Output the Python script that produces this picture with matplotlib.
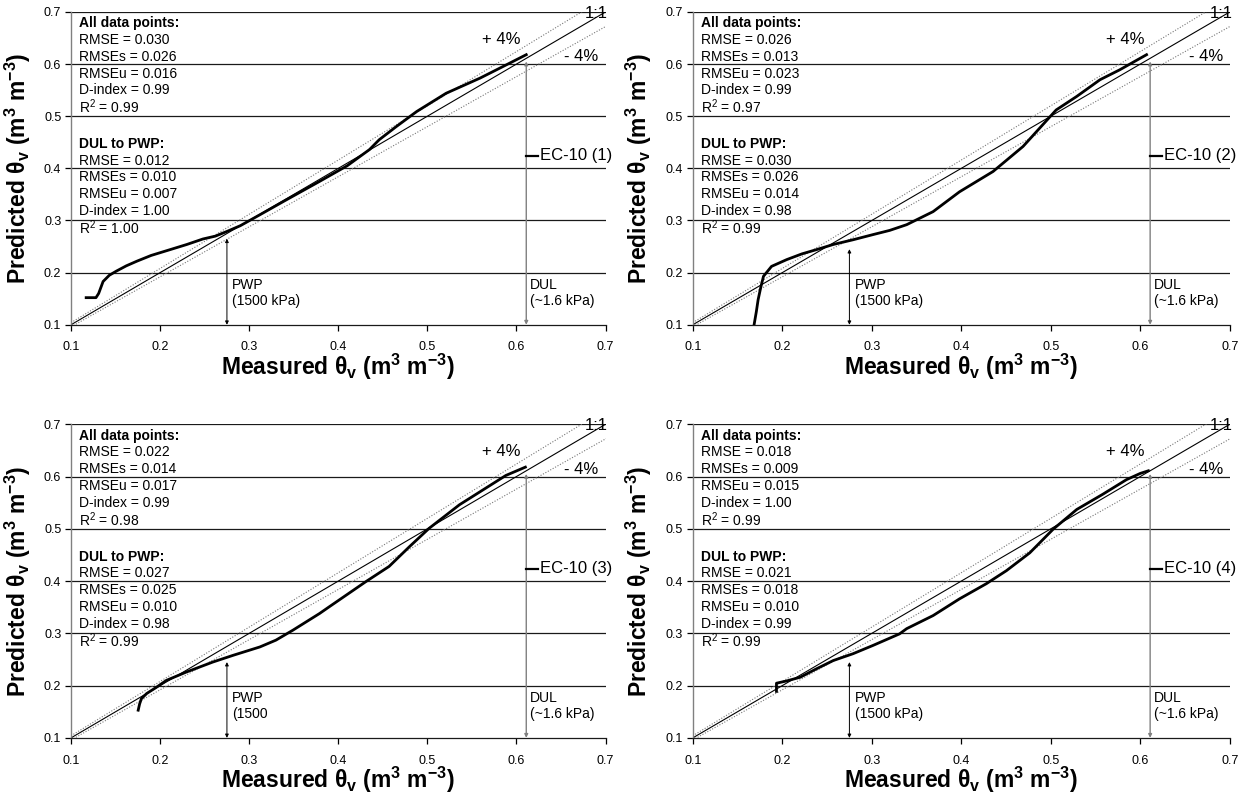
import matplotlib
matplotlib.use("Agg")
import matplotlib.pyplot as plt

plt.rcParams["font.family"] = ["Liberation Sans", "DejaVu Sans"]
plt.rcParams["mathtext.fontset"] = "custom"
plt.rcParams["mathtext.rm"] = "Liberation Sans"
plt.rcParams["mathtext.it"] = "Liberation Sans:italic"
plt.rcParams["mathtext.bf"] = "Liberation Sans:bold"

# sensor response curves, measured vs predicted volumetric water content
ec1_meas = [0.117, 0.128, 0.131, 0.136, 0.143, 0.151, 0.162, 0.174, 0.19, 0.211, 0.23,
            0.248, 0.262, 0.275, 0.29, 0.312, 0.34, 0.379, 0.41, 0.435, 0.446, 0.465,
            0.488, 0.521, 0.559, 0.588, 0.611]
ec1_pred = [0.152, 0.152, 0.160, 0.183, 0.195, 0.203, 0.213, 0.222, 0.233, 0.244, 0.254,
            0.2645, 0.270, 0.279, 0.290, 0.311, 0.338, 0.375, 0.405, 0.436, 0.455, 0.480,
            0.509, 0.544, 0.573, 0.598, 0.618]

ec2_meas = [0.1685, 0.171, 0.173, 0.176, 0.179, 0.188, 0.205, 0.222, 0.238, 0.257, 0.279,
            0.3015, 0.32, 0.339, 0.3685, 0.398, 0.4355, 0.469, 0.506, 0.529, 0.555, 0.577,
            0.607]
ec2_pred = [0.100, 0.125, 0.148, 0.172, 0.193, 0.212, 0.225, 0.236, 0.244, 0.254, 0.263,
            0.273, 0.281, 0.292, 0.317, 0.355, 0.394, 0.442, 0.512, 0.538, 0.570, 0.589,
            0.618]

ec3_meas = [0.1754, 0.177, 0.179, 0.185, 0.196, 0.207, 0.2295, 0.259, 0.282, 0.312, 0.33,
            0.349, 0.379, 0.39, 0.431, 0.457, 0.48, 0.502, 0.536, 0.562, 0.588, 0.610]
ec3_pred = [0.153, 0.165, 0.175, 0.185, 0.197, 0.210, 0.226, 0.245, 0.258, 0.274, 0.287,
            0.306, 0.338, 0.351, 0.399, 0.428, 0.466, 0.501, 0.546, 0.574, 0.602, 0.618]

ec4_meas = [0.1935, 0.1935, 0.205, 0.22, 0.238, 0.257, 0.279, 0.3015, 0.331, 0.339, 0.3685,
            0.398, 0.428, 0.4505, 0.4765, 0.5025, 0.529, 0.558, 0.5845, 0.6, 0.609]
ec4_pred = [0.189, 0.2046, 0.209, 0.216, 0.232, 0.248, 0.261, 0.277, 0.299, 0.309, 0.334,
            0.366, 0.395, 0.420, 0.454, 0.499, 0.537, 0.566, 0.594, 0.606, 0.611]

sensor_names = ["EC-10 (1)", "EC-10 (2)", "EC-10 (3)", "EC-10 (4)"]

# goodness-of-fit: RMSE, RMSEs, RMSEu, D-index, R^2
stats_all = [["0.030", "0.026", "0.016", "0.99", "0.99"],
             ["0.026", "0.013", "0.023", "0.99", "0.97"],
             ["0.022", "0.014", "0.017", "0.99", "0.98"],
             ["0.018", "0.009", "0.015", "1.00", "0.99"]]
stats_dul_pwp = [["0.012", "0.010", "0.007", "1.00", "1.00"],
                 ["0.030", "0.026", "0.014", "0.98", "0.99"],
                 ["0.027", "0.025", "0.010", "0.98", "0.99"],
                 ["0.021", "0.018", "0.010", "0.99", "0.99"]]

pwp_labels = ["PWP\n(1500 kPa)", "PWP\n(1500 kPa)", "PWP\n(1500", "PWP\n(1500 kPa)"]
pwp_tops = [0.265, 0.245, 0.245, 0.245]

ticks = [0.1, 0.2, 0.3, 0.4, 0.5, 0.6, 0.7]
PWP_X = 0.275
DUL_X = 0.611
DUL_TOP = 0.605
EC_Y = 0.424
STAT_NAMES = ["RMSE", "RMSEs", "RMSEu", "D-index", "R$^2$"]

curves = [(ec1_meas, ec1_pred), (ec2_meas, ec2_pred),
          (ec3_meas, ec3_pred), (ec4_meas, ec4_pred)]


def draw_panel(ax, i):
    meas, pred = curves[i]
    for t in ticks[1:]:
        ax.axhline(t, color="#1a1a1a", lw=0.9, zorder=1)

    line = [0.1, 0.75]
    ax.plot(line, line, color="black", lw=0.8, zorder=2)
    ax.plot(line, [v * 1.04 for v in line], color="#777777", lw=0.8, ls=(0, (1, 1.5)), zorder=2)
    ax.plot(line, [v * 0.96 for v in line], color="#777777", lw=0.8, ls=(0, (1, 1.5)), zorder=2)
    ax.plot(meas, pred, color="black", lw=2.0, solid_joinstyle="round", zorder=4)

    # PWP and DUL markers
    ax.annotate("", xy=(PWP_X, pwp_tops[i]), xytext=(PWP_X, 0.1),
                arrowprops=dict(arrowstyle="<|-|>", color="black", lw=0.7,
                                mutation_scale=5, shrinkA=0, shrinkB=0), zorder=3)
    ax.annotate("", xy=(DUL_X, DUL_TOP), xytext=(DUL_X, 0.1),
                arrowprops=dict(arrowstyle="<|-|>", color="#808080", lw=1.0,
                                mutation_scale=5, shrinkA=0, shrinkB=0), zorder=3)
    ax.text(PWP_X + 0.006, 0.161, pwp_labels[i], fontsize=10, va="center", ha="left",
            linespacing=1.15)
    ax.text(DUL_X + 0.004, 0.161, "DUL\n(~1.6 kPa)", fontsize=10, va="center", ha="left",
            linespacing=1.15)
    ax.plot([DUL_X, DUL_X + 0.013], [EC_Y, EC_Y], color="black", lw=1.6, zorder=4)
    ax.text(DUL_X + 0.015, EC_Y, sensor_names[i], fontsize=12, va="center", ha="left")

    ax.text(0.583, 0.648, "+ 4%", fontsize=12, ha="center", va="center")
    ax.text(0.673, 0.614, "- 4%", fontsize=12, ha="center", va="center")
    ax.text(0.69, 0.697, "1:1", fontsize=12, ha="center", va="center")

    # statistics blocks
    step = 0.0322
    for block, (title, vals) in enumerate([("All data points:", stats_all[i]),
                                           ("DUL to PWP:", stats_dul_pwp[i])]):
        y0 = 0.6784 if block == 0 else 0.447
        ax.text(0.109, y0, title, fontsize=10, fontweight="bold", va="center")
        for k, (name, v) in enumerate(zip(STAT_NAMES, vals)):
            ax.text(0.109, y0 - step * (k + 1), f"{name} = {v}", fontsize=10, va="center")

    ax.set_xlim(0.1, 0.7)
    ax.set_ylim(0.1, 0.7)
    ax.set_xticks(ticks)
    ax.set_yticks(ticks)
    ax.set_xticklabels([f"{t:.1f}" for t in ticks])
    ax.set_yticklabels([f"{t:.1f}" for t in ticks])
    ax.tick_params(axis="x", direction="out", length=4, width=0.9, pad=8, labelsize=9)
    ax.tick_params(axis="y", direction="out", length=4, width=0.9, pad=3, labelsize=9)
    for side in ("top", "right"):
        ax.spines[side].set_visible(False)
    ax.spines["left"].set_color("#808080")
    ax.spines["left"].set_linewidth(1.0)
    ax.spines["bottom"].set_color("#1a1a1a")
    ax.spines["bottom"].set_linewidth(0.9)

    ax.set_xlabel(r"Measured $\mathbf{\theta_v}$ (m$^\mathbf{3}$ m$^\mathbf{-3}$)",
                  fontsize=16.5, fontweight="bold")
    ax.set_ylabel(r"Predicted $\mathbf{\theta_v}$ (m$^\mathbf{3}$ m$^\mathbf{-3}$)",
                  fontsize=16.5, fontweight="bold")
    ax.xaxis.set_label_coords(0.5, -0.085)
    ax.yaxis.set_label_coords(-0.072, 0.5)


fig = plt.figure(figsize=(12.46, 7.96), dpi=100)
positions = [(0.057, 0.592, 0.429, 0.393), (0.556, 0.592, 0.431, 0.393),
             (0.057, 0.073, 0.429, 0.394), (0.556, 0.073, 0.431, 0.394)]
for i, pos in enumerate(positions):
    ax = fig.add_axes(pos)
    draw_panel(ax, i)

fig.savefig("out.png", dpi=100)
